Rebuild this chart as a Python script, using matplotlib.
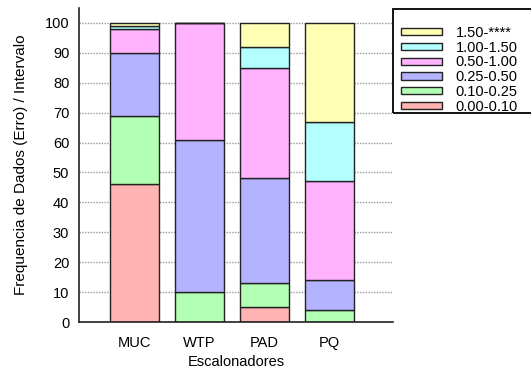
import matplotlib.pyplot as plt
from matplotlib.patches import Rectangle

plt.rcParams['font.family'] = ['Liberation Sans', 'DejaVu Sans']

schedulers = ["MUC", "WTP", "PAD", "PQ"]
intervals = ["0.00-0.10", "0.10-0.25", "0.25-0.50", "0.50-1.00", "1.00-1.50", "1.50-****"]
colors = ["#ffb3b3", "#b3ffb3", "#b3b3ff", "#ffb3ff", "#b3ffff", "#ffffb3"]

# percent per interval, one list per scheduler column
v_000_010 = [46, 0, 5, 0]
v_010_025 = [23, 10, 8, 4]
v_025_050 = [21, 51, 35, 10]
v_050_100 = [8, 39, 37, 33]
v_100_150 = [1, 0, 7, 20]
v_150_inf = [1, 0, 8, 33]
series = [v_000_010, v_010_025, v_025_050, v_050_100, v_100_150, v_150_inf]

FS = 10.5

fig = plt.figure(figsize=(5.31, 3.74), dpi=100)
ax = fig.add_axes([79/531, 52/374, 314/531, 314/374])

x = list(range(len(schedulers)))
bottom = [0] * len(schedulers)
handles = []
for vals, lab, col in zip(series, intervals, colors):
    b = ax.bar(x, vals, 0.75, bottom=bottom, color=col, edgecolor="#222222",
               linewidth=1.0, label=lab)
    handles.append(b)
    bottom = [a + v for a, v in zip(bottom, vals)]

ax.set_xlim(-0.854, 3.977)
ax.set_ylim(0, 105)
ax.set_yticks(range(0, 101, 10))
ax.set_xticks(x)
ax.set_xticklabels(schedulers)
ax.tick_params(length=0, labelsize=FS, colors="black")
ax.tick_params(axis="y", pad=7)
ax.tick_params(axis="x", pad=10)

ax.set_axisbelow(True)
ax.yaxis.grid(True, color="#9a9a9a", linestyle=(0, (1, 1)), linewidth=1.0)
for s in ["top", "right"]:
    ax.spines[s].set_visible(False)
for s in ["left", "bottom"]:
    ax.spines[s].set_color("#222222")
    ax.spines[s].set_linewidth(1.2)

ax.set_xlabel("Escalonadores", fontsize=FS, labelpad=4)
ax.set_ylabel("Frequencia de Dados (Erro) / Intervalo", fontsize=11, labelpad=12)

# legend box (runs off the right edge like the original)
fig.patches.append(Rectangle((393/531, 1 - 113/374), 160/531, 104/374,
                             transform=fig.transFigure, fill=False,
                             edgecolor="black", linewidth=1.3))
fig.legend(handles[::-1], intervals[::-1], loc="upper left",
           bbox_to_anchor=(401/531, 1 - 26/374), frameon=False, fontsize=FS,
           handlelength=2.8, handleheight=0.4, handletextpad=0.95,
           labelspacing=0.05, borderaxespad=0, borderpad=0)

fig.savefig("out.png", dpi=100)
